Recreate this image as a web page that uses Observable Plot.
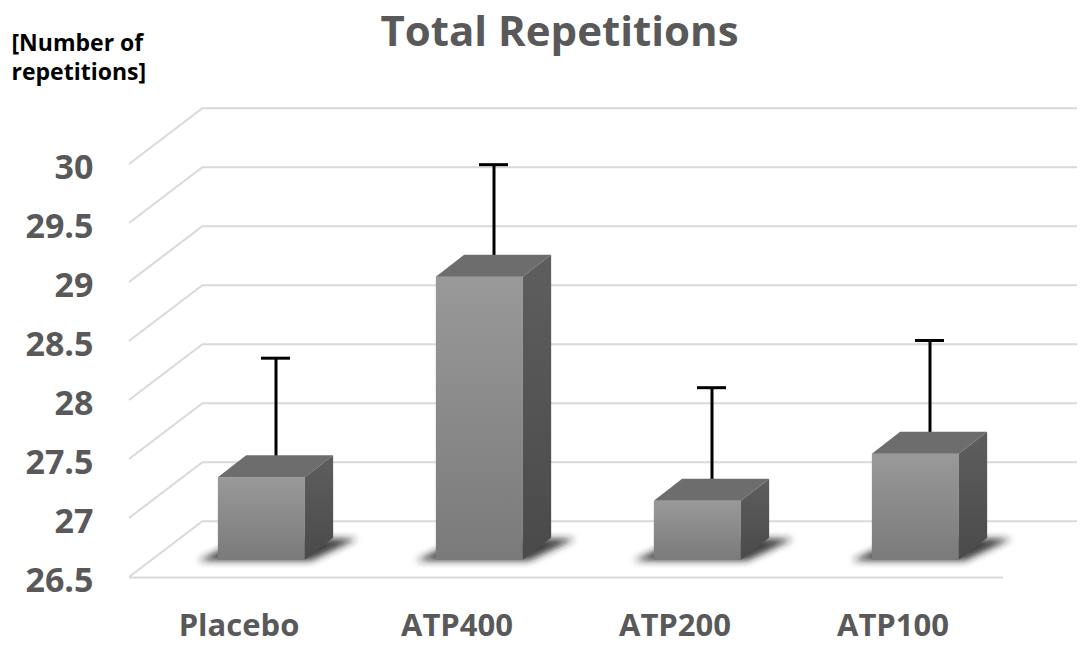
<!DOCTYPE html>
<html>
<head>
<meta charset="utf-8">
<script src="https://cdn.jsdelivr.net/npm/d3@7"></script>
<script src="https://cdn.jsdelivr.net/npm/@observablehq/plot@0.6"></script>
<style>
html, body { margin: 0; padding: 0; background: #fff; overflow: hidden; }
#chart svg { display: block; }
</style>
</head>
<body>
<div id="chart"></div>
<script>
// ---- data ----
const categories = ["Placebo", "ATP400", "ATP200", "ATP100"];
const means = [27.2, 28.9, 27.0, 27.4];
const sds = [0.92, 0.86, 0.87, 0.87];
const yTicks = [26.5, 27, 27.5, 28, 28.5, 29, 29.5, 30];
const yTickLabels = ["26.5", "27", "27.5", "28", "28.5", "29", "29.5", "30"];
const title = "Total Repetitions";
const yLabel = "[Number of\nrepetitions]";

const rows = categories.map((c, i) => ({category: c, mean: means[i], sd: sds[i]}));
const ticks = yTicks.map((v, i) => ({value: v, label: yTickLabels[i]}));

// ---- 3D projection offsets (pixels) ----
const FLOOR = {dx: 37, dy: -28.15};  // mid-depth plane -> back wall
const BAR = {dx: 14.15, dy: -11};    // mid-depth plane -> back of a bar

const FONT = "'Open Sans', 'Noto Sans', sans-serif";
const GRID = "#d9d9d9";
const TEXT = "#595959";

function defs() {
  const g = d3.create("svg:g");
  const d = g.append("defs");
  const gf = d.append("linearGradient").attr("id", "frontGrad")
    .attr("x1", 0).attr("y1", 0).attr("x2", 0).attr("y2", 1);
  gf.append("stop").attr("offset", "0%").attr("stop-color", "#999999");
  gf.append("stop").attr("offset", "100%").attr("stop-color", "#7a7a7a");
  const gs = d.append("linearGradient").attr("id", "sideGrad")
    .attr("x1", 0).attr("y1", 0).attr("x2", 0).attr("y2", 1);
  gs.append("stop").attr("offset", "0%").attr("stop-color", "#5e5e5e");
  gs.append("stop").attr("offset", "100%").attr("stop-color", "#4a4a4a");
  const f = d.append("filter").attr("id", "shadowBlur")
    .attr("x", "-50%").attr("y", "-50%").attr("width", "200%").attr("height", "200%");
  f.append("feGaussianBlur").attr("stdDeviation", 3.5);
  return g.node();
}

function diagonals(index, scales, values, dims) {
  const y = scales.y;
  const x0 = dims.marginLeft;
  const g = d3.create("svg:g").attr("stroke", GRID).attr("stroke-width", 2).attr("fill", "none");
  for (const v of yTicks) {
    const yy = y(v);
    g.append("line")
      .attr("x1", x0 + FLOOR.dx).attr("y1", yy + FLOOR.dy)
      .attr("x2", x0 - FLOOR.dx).attr("y2", yy - FLOOR.dy);
  }
  return g.node();
}

function shadows(index, scales) {
  const {x, y} = scales;
  const bw = x.bandwidth();
  const g = d3.create("svg:g").attr("filter", "url(#shadowBlur)")
    .attr("fill", "#1e1e1e").attr("fill-opacity", 0.85);
  for (const r of rows) {
    const L = x(r.category), R = L + bw, B = y(yTicks[0]);
    const fB = B - BAR.dy, bB = B + BAR.dy;
    const fL = L - BAR.dx, fR = R - BAR.dx, bL = L + BAR.dx, bR = R + BAR.dx;
    g.append("path").attr("d",
      `M${fL - 20},${fB + 1}L${fR + 6},${fB + 1}L${bR + 24},${bB + 1}L${bL},${bB}Z`);
  }
  return g.node();
}

function barFaces(index, scales) {
  const {x, y} = scales;
  const bw = x.bandwidth();
  const g = d3.create("svg:g");
  for (const r of rows) {
    const L = x(r.category), R = L + bw;
    const T = y(r.mean), B = y(yTicks[0]);
    const fL = L - BAR.dx, fR = R - BAR.dx, fT = T - BAR.dy, fB = B - BAR.dy;
    const bL = L + BAR.dx, bR = R + BAR.dx, bT = T + BAR.dy, bB = B + BAR.dy;
    g.append("path").attr("fill", "#6d6d6d")
      .attr("d", `M${fL},${fT}L${fR},${fT}L${bR},${bT}L${bL},${bT}Z`);
    g.append("path").attr("fill", "url(#sideGrad)")
      .attr("d", `M${fR},${fT}L${bR},${bT}L${bR},${bB}L${fR},${fB}Z`);
  }
  return g.node();
}

const chart = Plot.plot({
  width: 1084,
  height: 646,
  marginLeft: 166,
  marginRight: 44,
  marginTop: 135.85,
  marginBottom: 97.15,
  style: {fontFamily: FONT, background: "#fff"},
  x: {domain: categories, paddingInner: 0.6, paddingOuter: 0.3, axis: null},
  y: {domain: [26.5, 30], axis: null},
  marks: [
    defs,
    // back wall gridlines
    Plot.ruleY(yTicks, {dx: FLOOR.dx, dy: FLOOR.dy, stroke: GRID, strokeWidth: 2}),
    // side wall diagonals
    diagonals,
    // front edge of floor
    Plot.ruleY([yTicks[0]], {dx: -FLOOR.dx, dy: -FLOOR.dy, stroke: GRID, strokeWidth: 2}),
    // floor shadows
    shadows,
    // error bars (behind the bars)
    Plot.ruleX(rows, {x: "category", y1: "mean", y2: d => d.mean + d.sd, stroke: "#000", strokeWidth: 3}),
    Plot.tickY(rows, {x: "category", y: d => d.mean + d.sd, stroke: "#000", strokeWidth: 3, insetLeft: 29, insetRight: 29}),
    // bar front faces
    Plot.barY(rows, {x: "category", y1: yTicks[0], y2: "mean", dx: -BAR.dx, dy: -BAR.dy, fill: "url(#frontGrad)"}),
    // bar top and side faces
    barFaces,
    // y tick labels
    Plot.text(ticks, {y: "value", text: "label", frameAnchor: "left", textAnchor: "end", lineAnchor: "middle",
      dx: -73, dy: -FLOOR.dy + 3.5, fontSize: 34, fontWeight: "bold", fill: TEXT}),
    // x labels
    Plot.text(categories, {x: d => d, text: d => d, frameAnchor: "bottom", lineAnchor: "middle",
      dx: -FLOOR.dx, dy: 77.2, fontSize: 31, fontWeight: "bold", fill: TEXT}),
    // title
    Plot.text([title], {text: d => d, frameAnchor: "top", lineAnchor: "middle", dx: -44, dy: -103.8,
      fontSize: 42, fontWeight: "bold", fill: TEXT}),
    // y axis label
    Plot.text([yLabel], {text: d => d, frameAnchor: "top-left", textAnchor: "start", lineAnchor: "middle",
      dx: -155, dy: -80.5, fontSize: 23, lineHeight: 1.26, fontWeight: "bold", fill: "#000"})
  ]
});

document.getElementById("chart").appendChild(chart);
</script>
</body>
</html>
